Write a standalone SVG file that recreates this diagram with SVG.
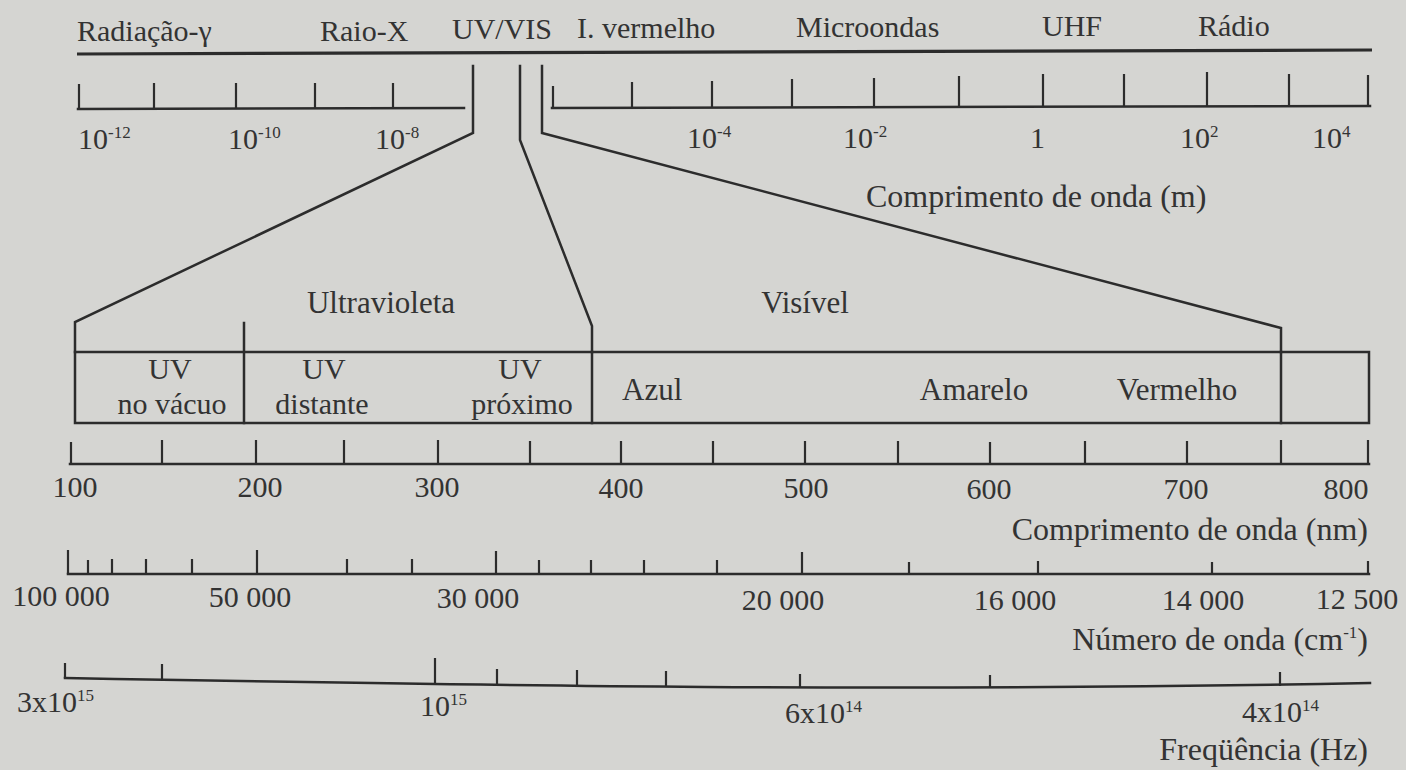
<svg xmlns="http://www.w3.org/2000/svg" width="1406" height="770" viewBox="0 0 1406 770">
<style>
  text { font-family: "Liberation Serif", "Times New Roman", serif; fill: #333; }
  .lbl { font-size: 30px; }
  .band { font-size: 31px; }
  .band2 { font-size: 30px; }
  .ttl { font-size: 32px; }
  .num { font-size: 30px; }
  .sup { font-size: 17px; }
  .ln { fill: none; stroke: #2c2c2c; stroke-width: 2.5; stroke-linecap: square; }
  .thick { fill: none; stroke: #2c2c2c; stroke-width: 3.2; }
  .tk { fill: none; stroke: #2c2c2c; stroke-width: 2.2; }
  .mid { text-anchor: middle; }
  .end { text-anchor: end; }
</style>
<rect x="0" y="0" width="1406" height="770" fill="#d5d5d2"/>

<g id="spectrum-regions">
  <path class="thick" d="M77 54 L1372 50"/>
  <text class="lbl" x="77" y="41">Radiação-γ</text>
  <text class="lbl" x="320" y="41">Raio-X</text>
  <text class="lbl" x="452" y="39">UV/VIS</text>
  <text class="lbl" x="577" y="38">I. vermelho</text>
  <text class="lbl" x="796" y="37">Microondas</text>
  <text class="lbl" x="1042" y="36">UHF</text>
  <text class="lbl" x="1198" y="36">Rádio</text>
</g>

<g id="ruler-m-left">
  <path class="ln" d="M78 109 L464 108"/>
  <path class="tk" d="M79 84V109 M154 83V109 M236 83V109 M315 83V108 M393 83V108"/>
  <text class="num" x="78" y="149">10<tspan class="sup" dy="-11">-12</tspan></text>
  <text class="num" x="228" y="149">10<tspan class="sup" dy="-11">-10</tspan></text>
  <text class="num" x="375" y="149">10<tspan class="sup" dy="-11">-8</tspan></text>
</g>

<g id="ruler-m-right">
  <path class="ln" d="M552 108 L1370 106"/>
  <path class="tk" d="M553 86V108 M632 82V108 M712 81V108 M792 79V107 M874 78V107 M959 76V107 M1043 74V107 M1124 74V107 M1207 72V106 M1289 74V106 M1368 75V106"/>
  <text class="num" x="687" y="148">10<tspan class="sup" dy="-11">-4</tspan></text>
  <text class="num" x="843" y="148">10<tspan class="sup" dy="-11">-2</tspan></text>
  <text class="num" x="1030" y="148">1</text>
  <text class="num" x="1180" y="148">10<tspan class="sup" dy="-11">2</tspan></text>
  <text class="num" x="1312" y="148">10<tspan class="sup" dy="-11">4</tspan></text>
  <text class="ttl" x="866" y="207">Comprimento de onda (m)</text>
</g>

<g id="connectors">
  <path class="ln" d="M473 66 V133 L75 322 V352"/>
  <path class="ln" d="M520 66 V140 L592 326 V352"/>
  <path class="ln" d="M542 66 V133 L1281 328 V352"/>
</g>

<g id="uv-vis-band">
  <rect class="ln" x="75" y="352" width="1294" height="71"/>
  <path class="ln" d="M244 323 V423 M592 352 V423 M1281 352 V423"/>
  <text class="band mid" x="381" y="313">Ultravioleta</text>
  <text class="band mid" x="805" y="313">Visível</text>
  <text class="band2 mid" x="170" y="379">UV</text>
  <text class="band2 mid" x="172" y="414">no vácuo</text>
  <text class="band2 mid" x="324" y="379">UV</text>
  <text class="band2 mid" x="322" y="414">distante</text>
  <text class="band2 mid" x="520" y="379">UV</text>
  <text class="band2 mid" x="522" y="414">próximo</text>
  <text class="band" x="622" y="400">Azul</text>
  <text class="band mid" x="974" y="400">Amarelo</text>
  <text class="band mid" x="1177" y="400">Vermelho</text>
</g>

<g id="ruler-nm">
  <path class="ln" d="M70 464 L1369 464"/>
  <path class="tk" d="M71 442V464 M162 440V464 M256 440V464 M344 440V464 M438 440V464 M530 441V464 M621 441V464 M713 441V464 M805 441V464 M898 441V464 M990 442V464 M1085 441V464 M1187 441V464 M1281 440V464 M1368 440V464"/>
  <text class="num mid" x="75" y="497">100</text>
  <text class="num mid" x="260" y="497">200</text>
  <text class="num mid" x="437" y="497">300</text>
  <text class="num mid" x="621" y="498">400</text>
  <text class="num mid" x="806" y="498">500</text>
  <text class="num mid" x="989" y="499">600</text>
  <text class="num mid" x="1186" y="499">700</text>
  <text class="num mid" x="1346" y="499">800</text>
  <text class="ttl end" x="1368" y="540">Comprimento de onda (nm)</text>
</g>

<g id="ruler-wavenumber">
  <path class="ln" d="M68 574 L1369 574"/>
  <path class="tk" d="M68 550V574 M257 550V574 M496 551V574 M802 552V574"/>
  <path class="tk" d="M88 560V574 M112 559V574 M146 559V574 M192 559V574 M347 559V574 M412 559V574 M539 560V574 M591 560V574 M644 560V574 M717 560V574 M909 562V574 M1038 561V574 M1212 562V574 M1368 561V574"/>
  <text class="num mid" x="61" y="606">100 000</text>
  <text class="num mid" x="250" y="607">50 000</text>
  <text class="num mid" x="478" y="608">30 000</text>
  <text class="num mid" x="783" y="610">20 000</text>
  <text class="num mid" x="1015" y="610">16 000</text>
  <text class="num mid" x="1203" y="610">14 000</text>
  <text class="num mid" x="1357" y="609">12 500</text>
  <text class="ttl end" x="1368" y="650">Número de onda (cm<tspan class="sup" dy="-12">-1</tspan><tspan dy="12">)</tspan></text>
</g>

<g id="ruler-frequency">
  <path class="ln" d="M65 678 C 500 686, 900 692, 1370 683"/>
  <path class="tk" d="M65 663V678 M162 664V679 M435 658V684 M497 669V685 M577 670V686 M666 671V686 M800 674V687 M990 675V688 M1280 672V686"/>
  <text class="num" x="17" y="712">3x10<tspan class="sup" dy="-11">15</tspan></text>
  <text class="num" x="420" y="716">10<tspan class="sup" dy="-11">15</tspan></text>
  <text class="num" x="785" y="723">6x10<tspan class="sup" dy="-11">14</tspan></text>
  <text class="num" x="1242" y="722">4x10<tspan class="sup" dy="-11">14</tspan></text>
  <text class="ttl end" x="1368" y="760">Freqüência (Hz)</text>
</g>
</svg>
